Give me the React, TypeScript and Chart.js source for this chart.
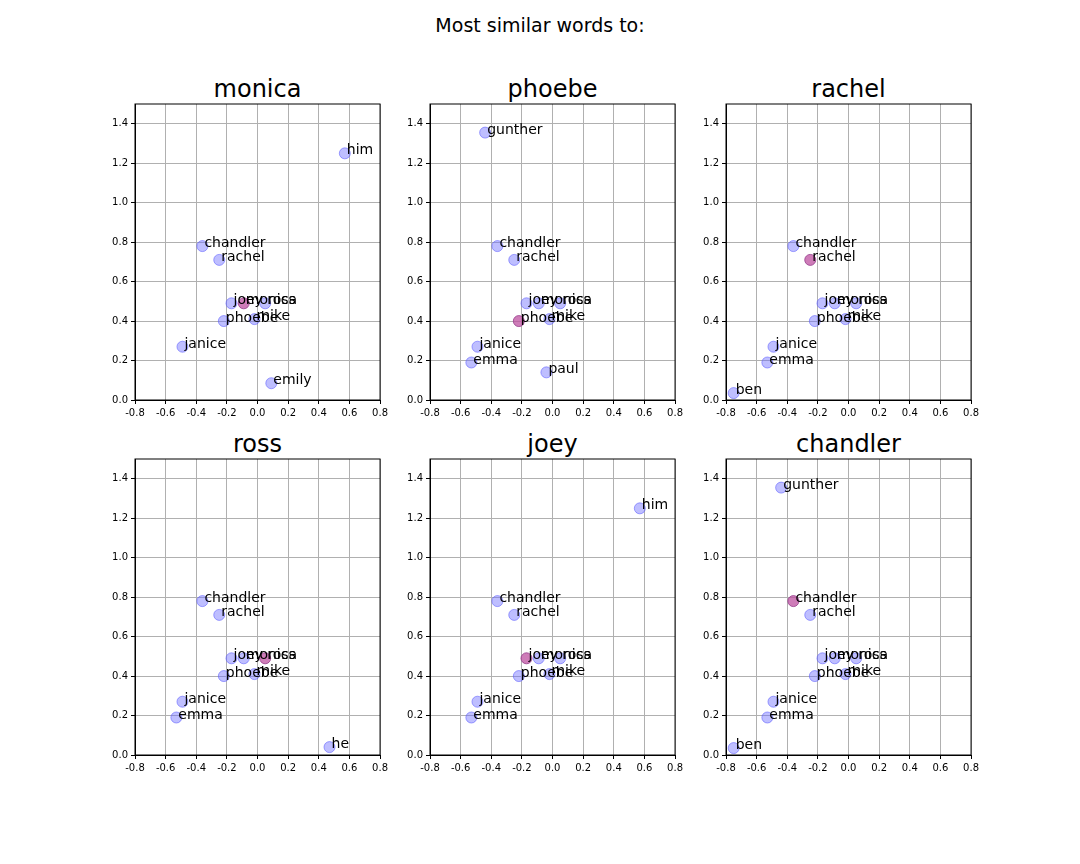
import React, { useEffect, useRef } from 'react';
import { Chart, registerables } from 'chart.js';

Chart.register(...registerables);

const coords: Record<string, [number, number]> = {
  chandler: [-0.36, 0.78],
  rachel: [-0.25, 0.71],
  joey: [-0.17, 0.49],
  monica: [-0.09, 0.49],
  ross: [0.05, 0.49],
  phoebe: [-0.22, 0.4],
  mike: [-0.02, 0.41],
  janice: [-0.49, 0.27],
  emma: [-0.53, 0.19],
  ben: [-0.75, 0.035],
  gunther: [-0.44, 1.355],
  him: [0.57, 1.25],
  emily: [0.09, 0.085],
  paul: [-0.04, 0.14],
  he: [0.47, 0.04],
};

const base = ['chandler', 'rachel', 'joey', 'monica', 'ross', 'phoebe', 'mike', 'janice'];

const panels: { title: string; words: string[] }[] = [
  { title: 'monica', words: [...base, 'emily', 'him'] },
  { title: 'phoebe', words: [...base, 'emma', 'gunther', 'paul'] },
  { title: 'rachel', words: [...base, 'emma', 'ben'] },
  { title: 'ross', words: [...base, 'emma', 'he'] },
  { title: 'joey', words: [...base, 'emma', 'him'] },
  { title: 'chandler', words: [...base, 'emma', 'gunther', 'ben'] },
];

const colLeft = [135, 430, 726];
const rowTop = [104, 459];
const PW = 245;
const PH = 296;
const YW = 40;
const XH = 22;
const PAD_T = 6;
const PAD_R = 8;

const labelPlugin = {
  id: 'wordLabels',
  afterDatasetsDraw(chart: any) {
    const { ctx, scales, chartArea } = chart;
    const words: string[] = chart.options.plugins.wordLabels.words;
    ctx.save();
    ctx.strokeStyle = '#000';
    ctx.lineWidth = 1;
    ctx.strokeRect(chartArea.left, chartArea.top, chartArea.right - chartArea.left, chartArea.bottom - chartArea.top);
    ctx.font = '14px "DejaVu Sans"';
    ctx.fillStyle = '#000';
    ctx.textBaseline = 'alphabetic';
    words.forEach((w) => {
      const [x, y] = coords[w];
      ctx.fillText(w, scales.x.getPixelForValue(x) + 2, scales.y.getPixelForValue(y) + 1);
    });
    ctx.restore();
  },
};

function Panel({ title, words, left, top }: { title: string; words: string[]; left: number; top: number }) {
  const ref = useRef<HTMLCanvasElement>(null);
  const cw = YW + PW + PAD_R + 3;
  const ch = PAD_T + PH + XH + 3;
  useEffect(() => {
    if (!ref.current) return;
    const pts = words.map((w) => ({ x: coords[w][0], y: coords[w][1] }));
    const chart = new Chart(ref.current, {
      type: 'scatter',
      data: {
        datasets: [
          {
            data: pts,
            pointRadius: 5.5,
            backgroundColor: words.map((w) => (w === title ? 'rgba(190,80,160,0.75)' : 'rgba(110,110,255,0.45)')),
            borderColor: words.map((w) => (w === title ? 'rgba(150,60,140,0.8)' : 'rgba(90,90,255,0.55)')),
            borderWidth: 1,
          },
        ],
      },
      options: {
        animation: false,
        responsive: false,
        layout: { padding: { top: PAD_T, right: PAD_R, left: 0, bottom: 0 } },
        plugins: { legend: { display: false }, tooltip: { enabled: false }, wordLabels: { words } } as any,
        scales: {
          x: {
            type: 'linear',
            min: -0.8,
            max: 0.8,
            afterFit: (s: any) => { s.height = XH; },
            ticks: { stepSize: 0.2, color: '#000', font: { size: 10, family: 'DejaVu Sans' }, maxRotation: 0, callback: (v: any) => Number(v).toFixed(1) },
            grid: { color: '#b0b0b0', tickLength: 4, tickColor: '#000' },
            border: { color: '#000' },
          },
          y: {
            type: 'linear',
            min: 0,
            max: 1.5,
            afterFit: (s: any) => { s.width = YW; },
            ticks: { stepSize: 0.2, color: '#000', font: { size: 10, family: 'DejaVu Sans' }, callback: (v: any) => (Number(v) > 1.45 ? '' : Number(v).toFixed(1)) },
            afterBuildTicks: (s: any) => { s.ticks = [0, 0.2, 0.4, 0.6, 0.8, 1.0, 1.2, 1.4].map((v) => ({ value: v })); },
            grid: { color: '#b0b0b0', tickLength: 4, tickColor: '#000' },
            border: { color: '#000' },
          },
        },
      },
      plugins: [labelPlugin],
    });
    return () => chart.destroy();
  }, [title, words]);
  return (
    <>
      <div style={{ position: 'absolute', left, top: top - 30, width: PW, textAlign: 'center', fontSize: 24, fontFamily: 'DejaVu Sans', lineHeight: '30px' }}>
        {title}
      </div>
      <canvas
        ref={ref}
        width={cw}
        height={ch}
        style={{ position: 'absolute', left: left - YW, top: top - PAD_T - 3, width: cw, height: ch }}
      />
    </>
  );
}

export default function App() {
  return (
    <div style={{ position: 'absolute', left: 0, top: 0, width: 1080, height: 864, background: '#fff' }}>
      <div style={{ position: 'absolute', left: 0, top: 14, width: 1080, textAlign: 'center', fontSize: 19, fontFamily: 'DejaVu Sans' }}>
        Most similar words to:
      </div>
      {panels.map((p, i) => (
        <Panel key={p.title} title={p.title} words={p.words} left={colLeft[i % 3]} top={rowTop[Math.floor(i / 3)]} />
      ))}
    </div>
  );
}
